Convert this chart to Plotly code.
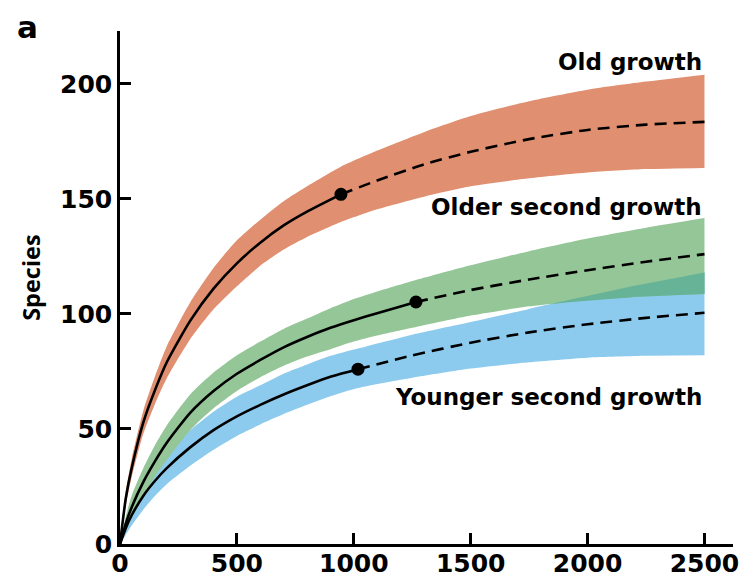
import numpy as np
import plotly.graph_objects as go

# ---------------- data ----------------
old_x = [0, 25, 50, 100, 150, 200, 300, 400, 500, 600, 700, 800, 945, 1100, 1300, 1500, 1750, 2000, 2250, 2500]
old_mean = [0, 20, 33, 53, 67, 79, 97, 111, 122, 131, 138.5, 144.5, 152, 158, 165, 170.5, 176, 180, 182.3, 183.5]
old_upper = [0, 23, 37, 58, 73, 86, 105, 120, 132, 141, 149, 155.5, 164, 171, 179, 186, 192.5, 197.5, 201, 204]
old_lower = [0, 17, 29, 48, 61, 72, 89, 102, 112, 121, 128, 133.5, 140, 145.5, 151, 155.5, 159, 161.5, 163, 163.5]
old_obs = 945  # observed sample size (dot)

osg_x = [0, 25, 50, 100, 150, 200, 300, 400, 500, 600, 700, 800, 900, 1000, 1100, 1266, 1500, 1750, 2000, 2250, 2500]
osg_mean = [0, 9, 16, 27, 36, 44, 57, 66.5, 74, 80, 85.5, 90, 94, 97.3, 100.3, 105.2, 110.4, 115, 119, 122.7, 126]
osg_upper = [0, 12, 21, 33, 43, 51.5, 65, 74.5, 82, 88, 93.5, 98, 102.5, 106.5, 109.8, 114.8, 121.2, 127.3, 132.8, 137.5, 141.7]
osg_lower = [0, 6, 11.5, 21, 29.5, 36.5, 49.5, 59, 66.5, 72.5, 77.5, 81.5, 84.7, 88, 90.6, 94.3, 99.3, 103.3, 106, 107.7, 108.7]
osg_obs = 1266

ysg_x = [0, 25, 50, 100, 150, 200, 300, 400, 500, 600, 700, 800, 900, 1018, 1250, 1500, 1750, 2000, 2250, 2500]
ysg_mean = [0, 7, 12.5, 21, 27.5, 33, 42, 49.5, 55.5, 60.5, 65, 69, 72.7, 76, 82, 87.5, 92, 95.5, 98.3, 100.5]
ysg_upper = [0, 10, 17, 27, 34, 40, 49.5, 57.5, 64, 69, 74, 78, 81.8, 85, 91, 96.5, 102.2, 108, 113.3, 118]
ysg_lower = [0, 4, 8, 15, 21, 26, 34, 41, 47, 52, 56.5, 60.5, 64.2, 67.8, 72.3, 76.3, 79, 81, 81.8, 82]
ysg_obs = 1018

x_ticks = [0, 500, 1000, 1500, 2000, 2500]
y_ticks = [0, 50, 100, 150, 200]

labels = ["Old growth", "Older second growth", "Younger second growth"]

C_OLD = "#E08F70"
C_OSG = "#95C697"
C_YSG = "#8DCBEE"
C_OVL = "#66B398"

SPL = dict(shape="spline", smoothing=0.6)

fig = go.Figure()


def band(x, up, lo, color):
    fig.add_trace(go.Scatter(x=x, y=lo, mode="lines", line=dict(width=0, **SPL),
                             hoverinfo="skip", showlegend=False))
    fig.add_trace(go.Scatter(x=x, y=up, mode="lines", fill="tonexty", fillcolor=color,
                             line=dict(width=0, **SPL), hoverinfo="skip", showlegend=False))


band(ysg_x, ysg_upper, ysg_lower, C_YSG)
band(osg_x, osg_upper, osg_lower, C_OSG)

# overlap of green and blue bands
grid = np.linspace(0, 2500, 1001)
g_lo = np.interp(grid, osg_x, osg_lower)
g_up = np.interp(grid, osg_x, osg_upper)
b_up = np.interp(grid, ysg_x, ysg_upper)
mask = (b_up > g_lo) & (grid > 1000)
if mask.any():
    gx = grid[mask]
    top = np.minimum(b_up[mask], g_up[mask])
    bot = g_lo[mask]
    fig.add_trace(go.Scatter(x=list(gx) + list(gx[::-1]), y=list(top) + list(bot[::-1]),
                             fill="toself", fillcolor=C_OVL, line=dict(width=0),
                             mode="lines", hoverinfo="skip", showlegend=False))

band(old_x, old_upper, old_lower, C_OLD)


def curve(x, m, obs):
    x = np.array(x, float)
    m = np.array(m, float)
    obs_y = float(np.interp(obs, x, m))
    sx = [v for v in x if v < obs] + [obs]
    sy = [mm for v, mm in zip(x, m) if v < obs] + [obs_y]
    dx = [obs] + [v for v in x if v > obs]
    dy = [obs_y] + [mm for v, mm in zip(x, m) if v > obs]
    fig.add_trace(go.Scatter(x=sx, y=sy, mode="lines",
                             line=dict(color="black", width=2.6, **SPL),
                             hoverinfo="skip", showlegend=False))
    fig.add_trace(go.Scatter(x=dx, y=dy, mode="lines",
                             line=dict(color="black", width=2.6, dash="12px,7px", **SPL),
                             hoverinfo="skip", showlegend=False))
    fig.add_trace(go.Scatter(x=[obs], y=[obs_y], mode="markers",
                             marker=dict(color="black", size=13),
                             hoverinfo="skip", showlegend=False))


curve(old_x, old_mean, old_obs)
curve(osg_x, osg_mean, osg_obs)
curve(ysg_x, ysg_mean, ysg_obs)

WIDE = "DejaVu Sans"
lab_font = dict(family=WIDE, size=23, color="black", weight=700)
label_y = [209.5, 146.5, 64]
for txt, ly in zip(labels, label_y):
    fig.add_annotation(x=2500, y=ly, text=txt, showarrow=False, xanchor="right",
                       yanchor="middle", font=lab_font)

# panel letter
fig.add_annotation(x=0.0, y=1.0, xref="paper", yref="paper", text="a", showarrow=False,
                   xanchor="left", yanchor="top", xshift=-104, yshift=23, borderpad=0,
                   font=dict(family=WIDE, size=31, color="black", weight=700))

# y axis title
fig.add_annotation(x=0.0, y=115.7, xref="paper", yref="y", text="Species", showarrow=False,
                   textangle=-90, xanchor="center", yanchor="middle", xshift=-89,
                   font=dict(family="Open Sans", size=23.5, color="black", weight=700))

tick_font = dict(family=WIDE, size=25, color="black", weight=700)
fig.update_xaxes(range=[0, 2622], tickvals=x_ticks, ticktext=[str(v) for v in x_ticks],
                 ticks="inside", ticklen=11, tickwidth=2.5, tickcolor="black",
                 showline=True, linecolor="black", linewidth=2.6, showgrid=False,
                 zeroline=False, tickfont=tick_font, automargin=False, ticklabelstandoff=-5)
fig.update_yaxes(range=[0, 223], tickvals=y_ticks, ticktext=[str(v) for v in y_ticks],
                 ticks="inside", ticklen=11, tickwidth=2.5, tickcolor="black",
                 showline=True, linecolor="black", linewidth=2.6, showgrid=False,
                 zeroline=False, tickfont=tick_font, automargin=False, ticklabelstandoff=0)

# page body has an 8px margin, so the figure is slightly smaller than the window
fig.update_layout(width=742, height=576, margin=dict(l=112, r=17, t=23, b=40),
                  plot_bgcolor="white", paper_bgcolor="white", showlegend=False)

fig.write_html("out.html")
